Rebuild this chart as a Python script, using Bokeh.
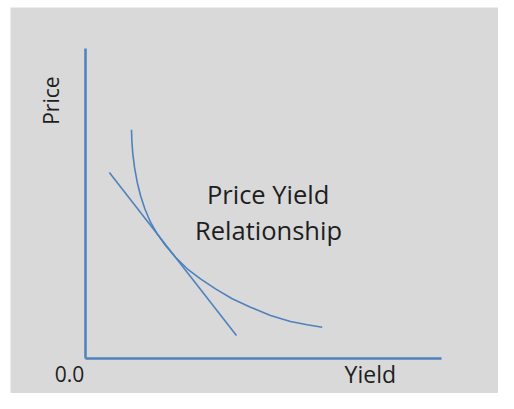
import math
from bokeh.plotting import figure
from bokeh.models import Range1d, Label
from bokeh.embed import file_html
from bokeh.resources import INLINE

# Price-yield curve (convex)
curve_yield = [1.292, 1.301, 1.329, 1.376, 1.452, 1.545, 1.666, 1.826, 2.014, 2.247,
               2.528, 2.857, 3.230, 3.652, 4.121, 4.635, 5.197, 5.758, 6.228, 6.649]
curve_price = [7.377, 7.032, 6.603, 6.171, 5.687, 5.258, 4.829, 4.397, 4.023, 3.645,
               3.268, 2.894, 2.571, 2.248, 1.926, 1.655, 1.387, 1.194, 1.087, 1.010]

# Tangent line (duration approximation)
tangent_yield = [0.67, 4.24]
tangent_price = [6.00, 0.74]

# Axes extents
axis_x_yield = [0, 10]
axis_x_price = [0, 0]
axis_y_yield = [0, 0]
axis_y_price = [0, 10]

title_lines = ["Price Yield", "Relationship"]
x_label = "Yield"
y_label = "Price"
origin_label = "0.0"

BG = "#d9d9d9"
BLUE = "#4f81bd"
TXT = "#1e1e1e"
FONT = "Open Sans"

p = figure(width=498, height=393, output_backend="svg", toolbar_location=None,
           x_axis_type=None, y_axis_type=None,
           x_range=Range1d(-2.107, 11.601), y_range=Range1d(-1.129, 11.323),
           min_border=0, min_border_left=10, min_border_right=0,
           min_border_top=7, min_border_bottom=0)
p.background_fill_color = BG
p.border_fill_color = "white"
p.outline_line_color = None
p.grid.visible = False

p.line(axis_x_yield, axis_x_price, line_color=BLUE, line_width=2.5)
p.line(axis_y_yield, axis_y_price, line_color=BLUE, line_width=2.5)
p.line(curve_yield, curve_price, line_color=BLUE, line_width=1.6, line_join="round")
p.line(tangent_yield, tangent_price, line_color=BLUE, line_width=1.6)

p.add_layout(Label(x=5.13, y=5.31, text=title_lines[0], text_align="center",
                   text_baseline="alphabetic", text_font=FONT,
                   text_font_size="25.5px", text_color=TXT))
p.add_layout(Label(x=5.14, y=4.15, text=title_lines[1], text_align="center",
                   text_baseline="alphabetic", text_font=FONT,
                   text_font_size="25.5px", text_color=TXT))
p.add_layout(Label(x=-0.98, y=8.32, text=y_label, angle=math.pi / 2,
                   text_align="center", text_baseline="alphabetic",
                   text_font=FONT, text_font_size="21px", text_color=TXT))
p.add_layout(Label(x=-0.45, y=-0.5, text=origin_label, text_align="center",
                   text_baseline="alphabetic", text_font=FONT,
                   text_font_size="21px", text_color=TXT))
p.add_layout(Label(x=8.0, y=-0.5, text=x_label, text_align="center",
                   text_baseline="alphabetic", text_font=FONT,
                   text_font_size="23px", text_color=TXT))

open("out.html", "w").write(file_html(p, INLINE))
